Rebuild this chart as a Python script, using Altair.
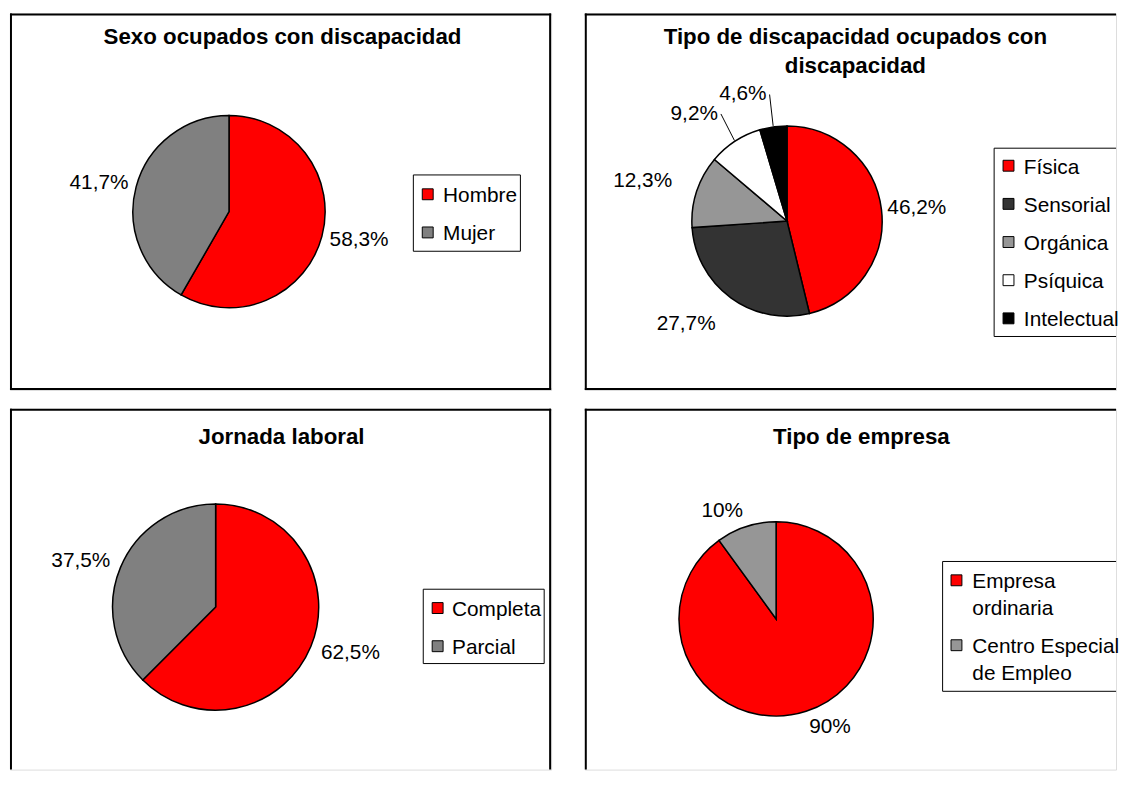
import altair as alt
import pandas as pd

FONT = "Liberation Sans"

# ---------------- data ----------------
sexo_cats = ["Hombre", "Mujer"]
sexo_vals = [58.3, 41.7]
sexo_labels = ["58,3%", "41,7%"]
sexo_colors = ["#FF0000", "#808080"]

tipo_cats = ["Física", "Sensorial", "Orgánica", "Psíquica", "Intelectual"]
tipo_vals = [46.2, 27.7, 12.3, 9.2, 4.6]
tipo_labels = ["46,2%", "27,7%", "12,3%", "9,2%", "4,6%"]
tipo_colors = ["#FF0000", "#333333", "#969696", "#FFFFFF", "#000000"]

jornada_cats = ["Completa", "Parcial"]
jornada_vals = [62.5, 37.5]
jornada_labels = ["62,5%", "37,5%"]
jornada_colors = ["#FF0000", "#808080"]

empresa_cats = ["Empresa ordinaria", "Centro Especial de Empleo"]
empresa_legend = ["Empresa|ordinaria", "Centro Especial|de Empleo"]
empresa_vals = [90, 10]
empresa_labels = ["90%", "10%"]
empresa_colors = ["#FF0000", "#969696"]

LH = 27      # legend line height
GAP = 11.5   # legend gap between entries


def panel(title_lines, cats, vals, labels, legend_text, colors, W, H, cx, cy, R,
          pad_r, pad_l, leaders, title_x, title_y, box, first_y, sym_x, txt_x, edges):
    df = pd.DataFrame({"cat": cats, "val": vals, "lab": labels,
                       "leg": legend_text, "idx": list(range(len(cats)))})
    one = pd.DataFrame({"k": [0]})
    color = alt.Color("cat:N", scale=alt.Scale(domain=cats, range=colors), legend=None)
    base = alt.Chart(df)

    layers = []
    # legend box
    bx, by, bx2, by2 = box
    layers.append(alt.Chart(one).mark_rect(fill="white", stroke="black", strokeWidth=1, clip=True).encode(
        x=alt.value(bx), x2=alt.value(bx2), y=alt.value(by), y2=alt.value(by2)))

    # pie
    layers.append(base.mark_arc(radius=R, stroke="black", strokeWidth=1.5).encode(
        theta=alt.Theta("val:Q", stack=True),
        order=alt.Order("idx:Q", sort="ascending"),
        color=color,
        x=alt.value(cx), y=alt.value(cy)))

    # label geometry
    geo = base.transform_joinaggregate(total="sum(val)").transform_window(
        cum="sum(val)", sort=[alt.SortField("idx")], frame=[None, 0]
    ).transform_calculate(
        mid="2*PI*(datum.cum - datum.val/2)/datum.total",
        small="datum.val/datum.total < 0.1",
    ).transform_calculate(
        lr=f"sin(datum.mid) >= 0 ? {R + pad_r} : {R + pad_l}",
    ).transform_calculate(
        ax=f"{cx} + datum.lr*sin(datum.mid)",
        ay=f"{cy} - datum.lr*cos(datum.mid) - cos(datum.mid)*7",
        ex=f"{cx} + {R + 1}*sin(datum.mid)",
        ey=f"{cy} - {R + 1}*cos(datum.mid)",
    ).transform_calculate(
        tx=f"datum.ax + ({'true' if leaders else 'false'} && datum.small ? (sin(datum.mid) >= 0 ? 3 : -3) : 0)",
    )
    if leaders:
        layers.append(geo.transform_filter("datum.small").mark_rule(color="black", strokeWidth=1).encode(
            x=alt.X("ex:Q", scale=None, axis=None), y=alt.Y("ey:Q", scale=None, axis=None),
            x2="ax:Q", y2="ay:Q"))
    layers.append(geo.transform_filter("sin(datum.mid) >= 0").mark_text(
        align="left", baseline="middle", fontSize=21, color="black").encode(
        x=alt.X("tx:Q", scale=None, axis=None), y=alt.Y("ay:Q", scale=None, axis=None), text="lab:N"))
    layers.append(geo.transform_filter("sin(datum.mid) < 0").mark_text(
        align="right", baseline="middle", fontSize=21, color="black").encode(
        x=alt.X("tx:Q", scale=None, axis=None), y=alt.Y("ay:Q", scale=None, axis=None), text="lab:N"))

    # legend entries
    leg = base.transform_calculate(
        nl="length(split(datum.leg, '|'))"
    ).transform_calculate(
        h=f"datum.nl*{LH} + {GAP}"
    ).transform_window(
        cumh="sum(h)", sort=[alt.SortField("idx")], frame=[None, 0]
    ).transform_calculate(
        gy=f"{first_y} + datum.cumh - datum.h",
        gty=f"{first_y} + datum.cumh - datum.h - 9",
    )
    layers.append(leg.mark_square(size=121, stroke="black", strokeWidth=1, opacity=1).encode(
        x=alt.value(sym_x), y=alt.Y("gy:Q", scale=None, axis=None), color=color))
    layers.append(leg.mark_text(align="left", baseline="top", fontSize=21, lineBreak="|",
                                lineHeight=LH, color="black").encode(
        x=alt.value(txt_x), y=alt.Y("gty:Q", scale=None, axis=None), text="leg:N"))

    # title (one text mark per line)
    for i, line in enumerate(title_lines):
        layers.append(alt.Chart(pd.DataFrame({"t": [line]})).mark_text(
            fontWeight="bold", fontSize=22.5, align="center", baseline="middle",
            color="black").encode(
            x=alt.value(title_x), y=alt.value(title_y + i * 29.5), text="t:N"))

    # frame edges (drawn just inside the panel)
    for e in edges:
        r = alt.Chart(one).mark_rule(color="black", strokeWidth=2)
        if e == "top":
            r = r.encode(x=alt.value(0), x2=alt.value(W), y=alt.value(1))
        elif e == "bottom":
            r = r.encode(x=alt.value(0), x2=alt.value(W), y=alt.value(H - 1))
        elif e == "left":
            r = r.encode(x=alt.value(1), y=alt.value(0), y2=alt.value(H))
        else:
            r = r.encode(x=alt.value(W - 1), y=alt.value(0), y2=alt.value(H))
        layers.append(r)

    return alt.layer(*layers).properties(width=W, height=H)


p1 = panel(["Sexo ocupados con discapacidad"], sexo_cats, sexo_vals, sexo_labels, sexo_cats,
           sexo_colors, W=546, H=380, cx=221, cy=200, R=97, pad_r=8, pad_l=8, leaders=False,
           title_x=275, title_y=24, box=(407, 163, 515, 240), first_y=182.5,
           sym_x=421.5, txt_x=437, edges=["top", "left", "right", "bottom"])

p2 = panel(["Tipo de discapacidad ocupados con", "discapacidad"], tipo_cats, tipo_vals,
           tipo_labels, tipo_cats, tipo_colors, W=536, H=380, cx=204, cy=209.5, R=96, pad_r=6,
           pad_l=26, leaders=True, title_x=273, title_y=23.5, box=(413, 136, 560, 326),
           first_y=153.7, sym_x=427.5, txt_x=443, edges=["top", "left", "bottom"])

p3 = panel(["Jornada laboral"], jornada_cats, jornada_vals, jornada_labels, jornada_cats,
           jornada_colors, W=546, H=364, cx=207.5, cy=200, R=104, pad_r=11, pad_l=11,
           leaders=False, title_x=274, title_y=28.5, box=(417, 182, 539, 257), first_y=201,
           sym_x=431.5, txt_x=446, edges=["top", "left", "right"])

p4 = panel(["Tipo de empresa"], empresa_cats, empresa_vals, empresa_labels, empresa_legend,
           empresa_colors, W=536, H=364, cx=193, cy=212, R=98, pad_r=10, pad_l=10,
           leaders=False, title_x=279, title_y=28.5, box=(361, 154, 560, 285), first_y=173,
           sym_x=375, txt_x=391, edges=["top", "left"])

chart = alt.vconcat(
    alt.hconcat(p1, p2, spacing=30).resolve_scale(color="independent"),
    alt.hconcat(p3, p4, spacing=30).resolve_scale(color="independent"),
    spacing=15,
).resolve_scale(color="independent").properties(
    padding=0, background="white"
).configure_view(stroke=None).configure(font=FONT)

chart.save("out.html", embed_options={"renderer": "svg", "actions": False})
